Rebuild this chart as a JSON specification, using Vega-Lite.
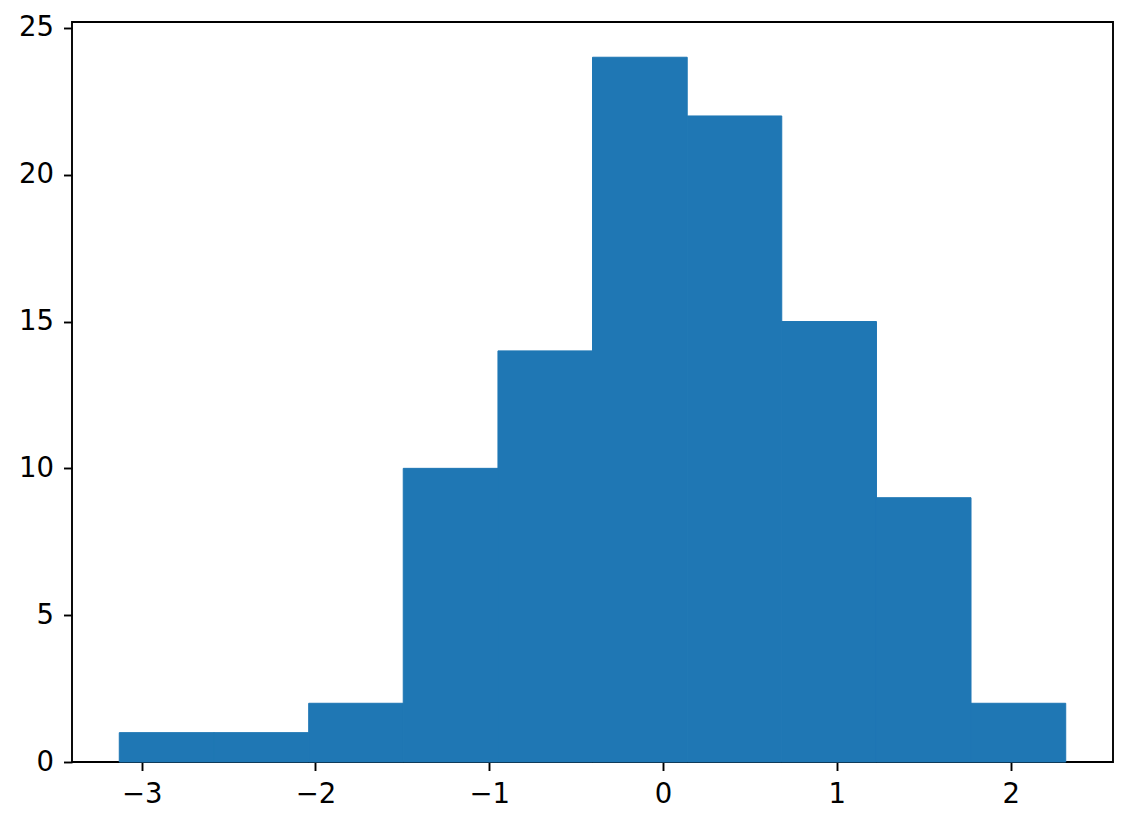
{
  "$schema": "https://vega.github.io/schema/vega-lite/v6.json",
  "width": 1041,
  "height": 740,
  "autosize": {"type": "none"},
  "padding": {"left": 72, "top": 22, "right": 19, "bottom": 64},
  "background": "white",
  "config": {
    "view": {"stroke": "black", "strokeWidth": 1.9},
    "axis": {
      "grid": false,
      "domain": false,
      "labelFont": "DejaVu Sans",
      "labelFontSize": 27.5,
      "labelColor": "black",
      "tickColor": "black",
      "tickSize": 8.5,
      "tickWidth": 1.9,
      "labelPadding": 10,
      "title": null
    }
  },
  "data": {
    "values": [
      {"start": -3.129, "end": -2.584, "count": 1},
      {"start": -2.584, "end": -2.039, "count": 1},
      {"start": -2.039, "end": -1.495, "count": 2},
      {"start": -1.495, "end": -0.950, "count": 10},
      {"start": -0.950, "end": -0.406, "count": 14},
      {"start": -0.406, "end": 0.139, "count": 24},
      {"start": 0.139, "end": 0.683, "count": 22},
      {"start": 0.683, "end": 1.228, "count": 15},
      {"start": 1.228, "end": 1.772, "count": 9},
      {"start": 1.772, "end": 2.317, "count": 2}
    ]
  },
  "mark": {"type": "bar", "color": "#1f77b4", "stroke": "#1f77b4", "strokeWidth": 1, "opacity": 1, "fillOpacity": 1, "strokeOpacity": 1},
  "encoding": {
    "x": {
      "field": "start",
      "type": "quantitative",
      "scale": {"domain": [-3.401, 2.589], "nice": false, "zero": false},
      "axis": {"values": [-3, -2, -1, 0, 1, 2], "format": "d", "labelExpr": "replace(datum.label, '-', '−')"}
    },
    "x2": {"field": "end"},
    "y": {
      "field": "count",
      "type": "quantitative",
      "scale": {"domain": [0, 25.2], "nice": false},
      "axis": {"values": [0, 5, 10, 15, 20, 25]}
    },
    "y2": {"datum": 0}
  }
}
